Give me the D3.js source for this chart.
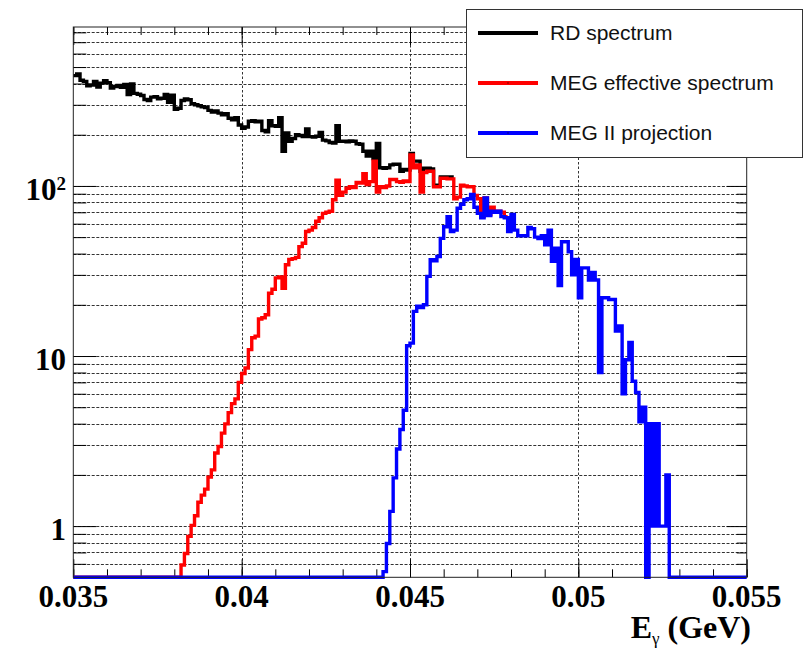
<!DOCTYPE html>
<html>
<head>
<meta charset="utf-8">
<script src="https://cdn.jsdelivr.net/npm/d3@7"></script>
<style>
  body { margin: 0; background: #fff; }
  .lbl { font-family: "Liberation Serif", "Times New Roman", serif; font-weight: bold; fill: #000; }
  .leg { font-family: "Liberation Sans", Arial, sans-serif; font-size: 21px; fill: #111; }
</style>
</head>
<body>
<script>
// histogram binning (GeV)
var binLow = 0.035, binWidth = 0.0001, nBins = 200;

// RD spectrum, bins from 0.035
var rdStart = 0;
var rdSpectrum = [
  445, 455, 418, 412, 388, 392, 412, 382, 402, 415,
  405, 376, 384, 390, 380, 395, 345, 398, 350, 346,
  340, 322, 318, 333, 335, 325, 328, 345, 310, 342,
  282, 286, 318, 325, 321, 304, 300, 296, 292, 289,
  278, 272, 276, 268, 262, 266, 250, 245, 252, 228,
  218, 222, 240, 242, 238, 240, 212, 208, 242, 226,
  224, 252, 160, 205, 183, 190, 200, 198, 195, 216,
  195, 194, 196, 206, 186, 184, 180, 179, 226, 183,
  183, 182, 184, 183, 177, 176, 160, 150, 160, 145,
  178, 128, 127, 128, 133, 134, 134, 122, 125, 124,
  155, 140, 140, 122, 127, 127, 126, 101, 100, 113,
  113, 112, 113
];

// MEG effective spectrum, first filled bin 32 (0.0382)
var megStart = 32;
var megEffective = [
  0.59, 0.69, 0.87, 1.01, 1.15, 1.38, 1.52, 1.65, 1.94, 2.14,
  2.69, 2.94, 3.52, 3.99, 4.65, 5.25, 5.6, 7.0, 7.9, 8.5,
  10.9, 12.8, 13.1, 16.5, 16.8, 17.5, 23.4, 24.7, 28.8, 29.2,
  25, 34.4, 37, 37.4, 38, 44, 46, 54, 55, 57,
  62, 65, 69, 70, 71, 83, 108, 88, 92, 97,
  99, 98, 105, 104, 118, 102, 106, 140, 92, 99,
  98, 100, 109, 109, 106, 105, 107, 106, 152, 128,
  133, 92, 120, 122, 122, 99, 99, 111, 111, 110,
  110, 84, 86, 101, 100, 99, 99, 88, 84, 66,
  85, 68, 75, 70, 71, 70, 66
];

// MEG II projection, first filled bin 92 (0.0442)
var meg2Start = 92;
var meg2Projection = [
  0.54, 0.79, 1.22, 1.92, 2.84, 3.7, 4.8, 11.5, 11.9, 18.3,
  19.6, 19.3, 20, 29.4, 36.8, 36.3, 38.5, 49.2, 57.6, 66,
  54, 55, 74, 78, 83, 84, 89, 75, 69, 65,
  85, 67, 71, 70, 71, 66, 65, 54, 68, 55,
  51, 51, 51, 57, 56, 50, 49, 51, 45, 55,
  36, 43, 26, 47, 47, 41, 30, 37, 22, 33,
  33, 28, 31, 28, 8, 22, 22, 21.5, 21.5, 14,
  15, 6, 9.5, 12, 7.1, 6.1, 4.1, 5, 0, 4,
  1, 4, 1, 1, 2
];

var xTicks = [0.035, 0.04, 0.045, 0.05, 0.055];
var xTickLabels = ["0.035", "0.04", "0.045", "0.05", "0.055"];
var yTicks = [1, 10, 100];
var yTickLabels = [["1", ""], ["10", ""], ["10", "2"]];
var legendNames = ["RD spectrum", "MEG effective spectrum", "MEG II projection"];
var legendColors = ["#000000", "#ff0000", "#0000ff"];

var W = 810, H = 648;
var x0 = 73.3, x1 = 746.7, yTop = 27, yBot = 577.3;
var yMin = 0.5, yMax = 860;

var x = d3.scaleLinear().domain([binLow, binLow + nBins * binWidth]).range([x0, x1]);
var y = d3.scaleLog().domain([yMin, yMax]).range([yBot, yTop]);

var svg = d3.select("body").append("svg")
    .attr("width", W)
    .attr("height", H);

// grid
var yGrid = y.ticks().filter(function(d) { return d > yMin * 1.01; });
svg.append("g").selectAll("line")
  .data(yGrid)
.enter().append("line")
  .attr("x1", x0).attr("x2", x1)
  .attr("y1", function(d) { return Math.round(y(d)) + 0.5; })
  .attr("y2", function(d) { return Math.round(y(d)) + 0.5; })
  .attr("stroke", "#333")
  .attr("stroke-width", 1)
  .attr("stroke-dasharray", "3,1.6");

svg.append("g").selectAll("line")
  .data(xTicks.slice(1, -1))
.enter().append("line")
  .attr("x1", function(d) { return Math.round(x(d)) + 0.5; })
  .attr("x2", function(d) { return Math.round(x(d)) + 0.5; })
  .attr("y1", yTop).attr("y2", yBot)
  .attr("stroke", "#333")
  .attr("stroke-width", 1)
  .attr("stroke-dasharray", "2.5,2");

// ticks (ROOT style: on all four sides, pointing inward)
var xMinor = d3.range(35, 56).map(function(d) { return d / 1000; });
var yMinor = yGrid.filter(function(d) { return yTicks.indexOf(d) < 0; });

function tickAxis(axis, tx, ty) {
  var g = svg.append("g")
      .attr("transform", "translate(" + tx + "," + ty + ")")
      .call(axis);
  g.select(".domain").remove();
  g.selectAll("line").attr("stroke", "#000");
  return g;
}
tickAxis(d3.axisBottom(x).tickValues(xMinor).tickSize(-8).tickFormat(""), 0, yBot);
tickAxis(d3.axisBottom(x).tickValues(xTicks).tickSize(-18).tickFormat(""), 0, yBot);
tickAxis(d3.axisTop(x).tickValues(xMinor).tickSize(-8).tickFormat(""), 0, yTop);
tickAxis(d3.axisTop(x).tickValues(xTicks).tickSize(-18).tickFormat(""), 0, yTop);
tickAxis(d3.axisLeft(y).tickValues(yMinor).tickSize(-13).tickFormat(""), x0, 0);
tickAxis(d3.axisLeft(y).tickValues(yTicks).tickSize(-23).tickFormat(""), x0, 0);
tickAxis(d3.axisRight(y).tickValues(yMinor).tickSize(-10).tickFormat(""), x1, 0);
tickAxis(d3.axisRight(y).tickValues(yTicks).tickSize(-20).tickFormat(""), x1, 0);

// histograms
function histPoints(first, values, fromBin, toBin) {
  var pts = [];
  for (var b = fromBin; b < toBin; b++) {
    var k = b - first;
    var v = (k >= 0 && k < values.length) ? values[k] : 0;
    pts.push([binLow + b * binWidth, v]);
  }
  pts.push([binLow + toBin * binWidth, pts[pts.length - 1][1]]);
  return pts;
}

var line = d3.line()
    .x(function(d) { return x(d[0]); })
    .y(function(d) { return y(Math.max(d[1], yMin)); })
    .curve(d3.curveStepAfter);

var series = [
  histPoints(rdStart, rdSpectrum, 0, rdStart + rdSpectrum.length),
  histPoints(megStart, megEffective, 0, megStart + megEffective.length),
  histPoints(meg2Start, meg2Projection, 0, nBins)
];

svg.append("g").selectAll("path")
  .data(series)
.enter().append("path")
  .attr("d", line)
  .attr("fill", "none")
  .attr("stroke", function(d, i) { return legendColors[i]; })
  .attr("stroke-width", 3.4)
  .attr("stroke-linejoin", "miter");

// frame
svg.append("rect")
  .attr("x", x0).attr("y", yTop)
  .attr("width", x1 - x0).attr("height", yBot - yTop)
  .attr("fill", "none")
  .attr("stroke", "#222")
  .attr("stroke-width", 1);

// tick labels
svg.append("g").selectAll("text")
  .data(xTicks)
.enter().append("text")
  .attr("class", "lbl")
  .attr("x", function(d) { return x(d); })
  .attr("y", 607)
  .attr("text-anchor", "middle")
  .style("font-size", "31px")
  .text(function(d, i) { return xTickLabels[i]; });

var yl = svg.append("g").selectAll("text")
  .data(yTicks)
.enter().append("text")
  .attr("class", "lbl")
  .attr("x", 66)
  .attr("y", function(d) { return y(d) + 14; })
  .attr("text-anchor", "end")
  .style("font-size", "31px");
yl.append("tspan").text(function(d, i) { return yTickLabels[i][0]; });
yl.append("tspan")
  .attr("dy", -10)
  .style("font-size", "19px")
  .text(function(d, i) { return yTickLabels[i][1]; });

// axis title
var title = svg.append("text")
  .attr("class", "lbl")
  .attr("x", 751)
  .attr("y", 638)
  .attr("text-anchor", "end")
  .style("font-size", "32px");
title.append("tspan").text("E");
title.append("tspan").attr("dy", 6).style("font-size", "17px").style("font-weight", "normal").text("γ");
title.append("tspan").attr("dy", -6).text(" (GeV)");

// legend
var leg = svg.append("g");
leg.append("rect")
  .attr("x", 466.5).attr("y", 9.5)
  .attr("width", 336).attr("height", 148)
  .attr("fill", "#fff")
  .attr("stroke", "#333")
  .attr("stroke-width", 1);

var legY = [33, 83, 133];
var items = leg.selectAll("g.item")
  .data(legendNames)
.enter().append("g")
  .attr("class", "item")
  .attr("transform", function(d, i) { return "translate(0," + legY[i] + ")"; });
items.append("line")
  .attr("x1", 478).attr("x2", 538)
  .attr("stroke", function(d, i) { return legendColors[i]; })
  .attr("stroke-width", 4);
items.append("rect")
  .attr("x", 507.5).attr("y", -0.5).attr("width", 1).attr("height", 1)
  .attr("fill", "#000");
items.append("text")
  .attr("class", "leg")
  .attr("x", 550)
  .attr("y", 7)
  .text(function(d) { return d; });
</script>
</body>
</html>
